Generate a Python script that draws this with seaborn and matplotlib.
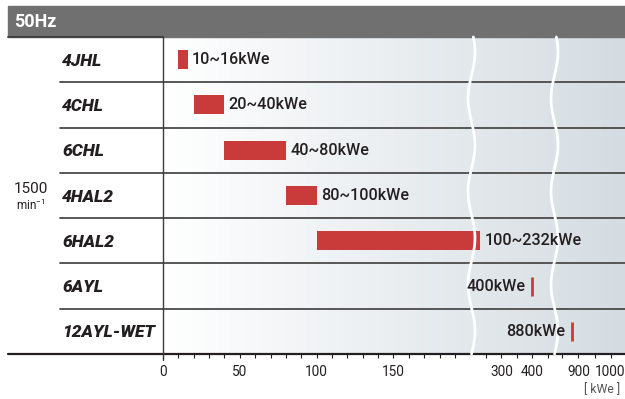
import numpy as np
import pandas as pd
import matplotlib.pyplot as plt
import seaborn as sns
from matplotlib.colors import LinearSegmentedColormap
from matplotlib.patches import Rectangle

# data
models = ['4JHL', '4CHL', '6CHL', '4HAL2', '6HAL2', '6AYL', '12AYL-WET']
kwe_lo = [10, 20, 40, 80, 100, 400, 880]
kwe_hi = [16, 40, 80, 100, 232, 400, 880]
range_labels = ['10~16kWe', '20~40kWe', '40~80kWe', '80~100kWe',
                '100~232kWe', '400kWe', '880kWe']
tick_vals = [0, 50, 100, 150, 300, 400, 900, 1000]
tick_labels = ['0', '50', '100', '150', '300', '400', '900', '1000']
minor_vals = [10, 20, 30, 40, 60, 70, 80, 90, 110, 120, 130, 140, 160, 170,
              180, 190, 250, 350, 450, 850, 950]

# broken axis: kWe -> position (pixels from the 0 line)
brk_kwe = [0, 200, 468, 822, 1045]
brk_pos = [0, 307, 390, 390.01, 461.5]

df = pd.DataFrame({'model': models, 'lo': kwe_lo,
                   'span': np.subtract(kwe_hi, kwe_lo)})

sns.set_style('white')
plt.rcParams['font.family'] = ['Roboto', 'DejaVu Sans']

W, H = 625, 399
ink = '#231f20'
red = '#c93a3a'
fig = plt.figure(figsize=(W / 100, H / 100), dpi=100)
rect = [163 / W, 1 - 354 / H, (W - 163) / W, (354 - 37) / H]

# gradient background
bg = fig.add_axes(rect, zorder=0)
cmap = LinearSegmentedColormap.from_list('bg', ['#ffffff', '#eaeef1', '#d5dce1'])
bg.imshow(np.linspace(0, 1, 256).reshape(1, -1), aspect='auto', cmap=cmap,
          extent=[0, 1, 0, 1])
bg.set_axis_off()

ax = fig.add_axes(rect, zorder=1)
ax.set_facecolor('none')
sns.barplot(data=df, x='span', y='model', left=df['lo'], orient='h',
            color=red, saturation=1, width=0.42, errorbar=None,
            linewidth=0, ax=ax)
for p in ax.patches:
    if p.get_width() == 0:
        p.set_linewidth(2)
        p.set_edgecolor(red)


def fwd(x):
    return np.interp(x, brk_kwe, brk_pos)


def inv(p):
    return np.interp(p, brk_pos, brk_kwe)


ax.set_xscale('function', functions=(fwd, inv))
ax.set_xlim(0, 1045)
ax.set_ylim(6.5, -0.5)
ax.set_xlabel('')
ax.set_ylabel('')

ax.set_xticks(tick_vals)
ax.set_xticklabels(tick_labels)
ax.set_xticks(minor_vals, minor=True)
ax.tick_params(axis='x', which='both', direction='out', length=3, width=0.8,
               color=ink, labelsize=9.8, labelcolor=ink, pad=5, bottom=True)
ax.tick_params(axis='y', length=0, pad=72.7)
for t in ax.get_yticklabels():
    t.set_ha('left')
    t.set_fontsize(12.5)
    t.set_fontweight('black')
    t.set_fontstyle('italic')
    t.set_color(ink)
for s in ax.spines.values():
    s.set_visible(False)

# frame lines
px = 462.0
for y in np.arange(0.5, 6.5):
    ax.axhline(y, xmin=(60 - 163) / px, xmax=1, color='#4a4a4a', lw=1.3,
               clip_on=False, zorder=2)
ax.axhline(6.5, xmin=(8 - 163) / px, xmax=1, color=ink, lw=1.6,
           clip_on=False, zorder=3)
ax.axhline(-0.5, xmin=(8 - 163) / px, xmax=0, color='#3c3c3c', lw=1.3,
           clip_on=False, zorder=3)
ax.axvline(0, ymin=-0.018, ymax=1, color='#3c3c3c', lw=1, clip_on=False,
           zorder=3)

# wavy break lines
yy = np.linspace(37, 354, 400)
for b in [200, 468]:
    xw = fwd(b) + 1.5 + 3.5 * np.cos(2 * np.pi * (yy - 52) / 93)
    ax.plot(xw / px, (354 - yy) / 317, color='white', lw=2,
            transform=ax.transAxes, clip_on=False, zorder=5)

# bar labels
for i, (lo, hi, lab) in enumerate(zip(kwe_lo, kwe_hi, range_labels)):
    if lo == hi:
        ax.annotate(lab, xy=(lo, i), xytext=(-5, 0), textcoords='offset points',
                    ha='right', va='center', fontsize=11.6, color=ink,
                    fontweight='medium', zorder=6)
    else:
        ax.annotate(lab, xy=(hi, i), xytext=(3, 0), textcoords='offset points',
                    ha='left', va='center', fontsize=11.6, color=ink,
                    fontweight='medium', zorder=6)

# header bar
fig.patches.append(Rectangle((8 / W, 1 - 37 / H), (W - 8) / W, 31 / H,
                             transform=fig.transFigure, color='#707070',
                             zorder=0))
fig.text(14 / W, 1 - 22 / H, '50Hz', color='white', fontsize=13,
         fontweight='bold', va='center', ha='left')

fig.text(31 / W, 1 - 189 / H, '1500', color=ink, fontsize=11,
         ha='center', va='center')
fig.text(31 / W, 1 - 205 / H, r'min$^{\mathregular{-1}}$', color=ink,
         fontsize=8.5, ha='center', va='center')
fig.text(620 / W, 1 - 390 / H, '[ kWe ]', color='#555555', fontsize=8.8,
         ha='right', va='center')

fig.savefig('out.png', dpi=100)
